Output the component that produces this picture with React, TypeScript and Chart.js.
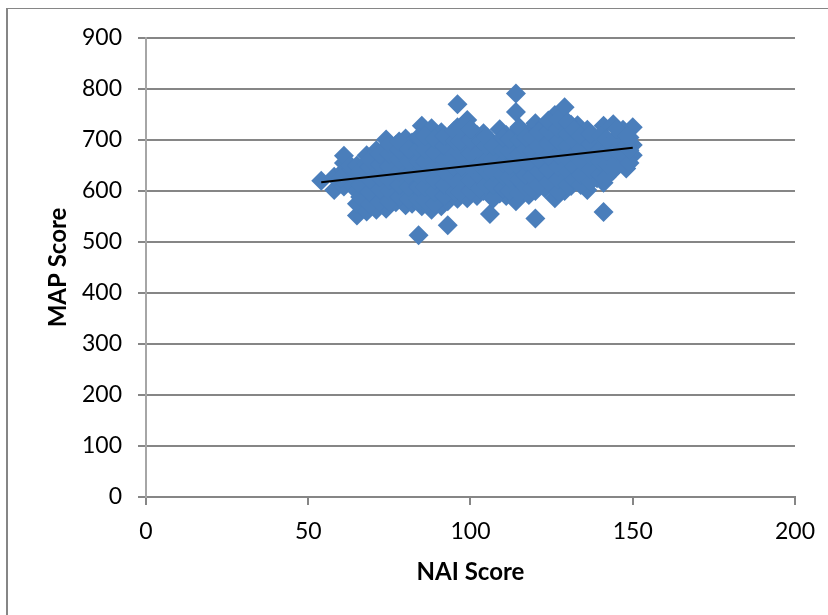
import React, { useEffect, useRef } from "react";
import { Chart, registerables } from "chart.js";

Chart.register(...registerables);

const naiScores = [
  54, 58, 58, 61, 61, 61, 61, 63, 63, 63,
  65, 65, 65, 65, 65, 68, 68, 68, 68, 68, 68,
  71, 71, 71, 71, 71, 71, 74, 74, 74, 74, 74, 74, 74,
  77, 77, 77, 77, 77, 77, 80, 80, 80, 80, 80, 80,
  82, 82, 82, 82, 82, 82, 84, 85, 85, 85, 85, 85, 85, 85,
  88, 88, 88, 88, 88, 88, 88, 91, 91, 91, 91, 91, 91, 91,
  93, 93, 93, 93, 93, 93, 93, 96, 96, 96, 96, 96, 96, 96, 96,
  99, 99, 99, 99, 99, 99, 99, 102, 102, 102, 102, 102, 102,
  104, 104, 104, 104, 104, 104, 106, 106, 106, 106, 106, 106,
  109, 109, 109, 109, 109, 109, 111, 111, 111, 111, 111, 111,
  114, 114, 114, 114, 114, 114, 114, 114, 116, 116, 116, 116, 116,
  118, 118, 118, 118, 118, 118, 120, 120, 120, 120, 120, 120, 120,
  123, 123, 123, 123, 123, 123, 126, 126, 126, 126, 126, 126, 126,
  129, 129, 129, 129, 129, 129, 129, 131, 131, 131, 131, 131, 131,
  133, 133, 133, 133, 133, 136, 136, 136, 136, 136, 136,
  139, 139, 139, 139, 141, 141, 141, 141, 141, 141,
  144, 144, 144, 144, 147, 147, 147, 148, 150, 150, 150,
];

const mapScores = [
  620, 602, 628, 609, 640, 655, 669, 615, 640, 650,
  552, 575, 600, 625, 650, 560, 585, 610, 635, 655, 670,
  563, 590, 615, 640, 665, 680, 565, 590, 610, 635, 660, 685, 701,
  578, 600, 625, 650, 675, 690, 572, 595, 620, 645, 670, 703,
  575, 600, 625, 650, 675, 695, 513, 570, 595, 620, 645, 670, 695, 728,
  563, 585, 610, 635, 660, 690, 723, 570, 595, 620, 645, 670, 695, 715,
  533, 580, 605, 630, 655, 680, 705, 585, 610, 635, 660, 685, 710, 725, 770,
  586, 610, 635, 660, 685, 715, 739, 590, 615, 640, 665, 690, 710,
  600, 625, 650, 675, 700, 713, 555, 600, 625, 650, 675, 700,
  595, 620, 645, 670, 695, 721, 590, 615, 640, 665, 690, 710,
  580, 610, 635, 660, 685, 715, 755, 791, 598, 620, 645, 670, 695,
  592, 615, 640, 665, 690, 715, 546, 600, 625, 650, 675, 700, 733,
  605, 630, 655, 680, 705, 730, 586, 610, 635, 660, 685, 710, 749,
  600, 625, 650, 675, 700, 725, 764, 610, 635, 660, 685, 710, 730,
  620, 645, 670, 695, 729, 602, 630, 655, 680, 705, 720,
  625, 650, 675, 700, 559, 616, 640, 665, 690, 728,
  640, 665, 690, 731, 655, 680, 720, 644, 670, 690, 725,
];

const moreNai = [
  60, 66, 66, 66, 69, 69, 69, 69, 69, 72, 72, 72, 72, 72,
  75, 75, 75, 75, 75, 75, 78, 78, 78, 78, 78, 78, 81, 81, 81, 81, 81,
  84, 84, 84, 84, 84, 84, 86, 86, 86, 86, 86, 86, 89, 89, 89, 89, 89, 89,
  92, 92, 92, 92, 92, 92, 95, 95, 95, 95, 95, 95, 97, 97, 97, 97, 97, 97,
  100, 100, 100, 100, 100, 100, 103, 103, 103, 103, 103, 105, 105, 105, 105, 105,
  107, 107, 107, 107, 107, 110, 110, 110, 110, 110, 112, 112, 112, 112, 112,
  115, 115, 115, 115, 115, 115, 117, 117, 117, 117, 117, 119, 119, 119, 119, 119,
  121, 121, 121, 121, 121, 124, 124, 124, 124, 124, 124, 127, 127, 127, 127, 127, 127, 127,
  130, 130, 130, 130, 130, 130, 132, 132, 132, 132, 132, 134, 134, 134, 134, 134,
  137, 137, 137, 137, 137, 140, 140, 140, 140, 142, 142, 142, 142,
  145, 145, 145, 145, 148, 148, 148, 149, 149, 149,
];

const moreMap = [
  625, 588, 612, 638, 573, 598, 622, 647, 662, 578, 603, 628, 652, 673,
  578, 600, 622, 648, 672, 692, 588, 612, 638, 662, 682, 697, 584, 608, 632, 658, 682,
  583, 608, 632, 658, 682, 706, 582, 608, 632, 658, 682, 708, 575, 598, 622, 648, 675, 702,
  590, 612, 638, 662, 688, 708, 598, 622, 648, 672, 698, 718, 598, 622, 648, 672, 698, 722,
  600, 622, 648, 675, 700, 722, 605, 628, 652, 678, 698, 612, 638, 662, 688, 706,
  585, 612, 638, 662, 688, 605, 630, 655, 680, 705, 600, 625, 650, 678, 702,
  595, 622, 648, 672, 700, 725, 608, 632, 658, 682, 705, 605, 628, 652, 678, 705,
  612, 638, 662, 688, 715, 618, 642, 668, 692, 718, 738, 598, 622, 648, 672, 698, 722, 740,
  612, 638, 662, 688, 712, 735, 622, 648, 672, 698, 720, 612, 632, 658, 682, 708,
  618, 642, 668, 692, 712, 632, 658, 682, 708, 628, 652, 678, 702,
  652, 678, 705, 722, 665, 690, 708, 655, 680, 705,
];

const trendNai = [54, 150];
const trendMap = [617, 685];

const xTitle = "NAI Score";
const yTitle = "MAP Score";

const FONT = "Lato, Carlito, Calibri, sans-serif";
const GRID = "#868686";
const AXIS = "#a6a6a6";

export default function App() {
  const ref = useRef<HTMLCanvasElement | null>(null);

  useEffect(() => {
    if (!ref.current) return;
    const allNai = [...naiScores, ...moreNai];
    const allMap = [...mapScores, ...moreMap];
    const chart = new Chart(ref.current, {
      type: "scatter",
      data: {
        datasets: [
          {
            label: "Trend",
            data: trendNai.map((x, i) => ({ x, y: trendMap[i] })),
            showLine: true,
            borderColor: "#000000",
            borderWidth: 2,
            pointRadius: 0,
            order: 0,
          },
          {
            label: "Scores",
            data: allNai.map((x, i) => ({ x, y: allMap[i] })),
            pointStyle: "rectRot",
            pointRadius: 10,
            backgroundColor: "#4a7ebb",
            borderColor: "#4a7ebb",
            borderWidth: 0,
            order: 1,
          },
        ],
      },
      options: {
        animation: false,
        responsive: false,
        layout: { padding: { top: 38, right: 32, left: 0, bottom: 0 } },
        plugins: {
          legend: { display: false },
          tooltip: { enabled: false },
        },
        scales: {
          x: {
            type: "linear",
            min: 0,
            max: 200,
            ticks: {
              stepSize: 50,
              font: { family: FONT, size: 23 },
              color: "#000000",
              padding: 13,
              maxRotation: 0,
            },
            grid: {
              drawOnChartArea: false,
              drawTicks: true,
              tickLength: 8,
              color: GRID,
              lineWidth: 2,
            },
            border: { color: GRID, width: 2 },
            title: {
              display: true,
              text: xTitle,
              color: "#000000",
              font: { family: FONT, size: 24, weight: "bold" },
              padding: { top: 0, bottom: 28 },
            },
            afterFit: (s: any) => {
              s.height = 118;
            },
          },
          y: {
            type: "linear",
            min: 0,
            max: 900,
            ticks: {
              stepSize: 100,
              font: { family: FONT, size: 23 },
              color: "#000000",
              padding: 16,
            },
            grid: {
              tickLength: 8,
              color: GRID,
              lineWidth: 2,
            },
            border: { color: AXIS, width: 2 },
            title: {
              display: true,
              text: yTitle,
              color: "#000000",
              font: { family: FONT, size: 24, weight: "bold" },
              padding: { top: 44, bottom: 0 },
            },
            afterFit: (s: any) => {
              s.width = 146;
            },
          },
        },
      },
    });
    return () => chart.destroy();
  }, []);

  return (
    <div style={{ position: "absolute", left: 0, top: 0, width: 828, height: 615, background: "#ffffff", overflow: "hidden" }}>
      <div
        style={{
          position: "absolute",
          left: 6,
          top: 8,
          width: 830,
          height: 620,
          borderLeft: "2px solid #868686",
          borderTop: "1px solid #868686",
        }}
      />
      <canvas ref={ref} width={828} height={615} style={{ position: "absolute", left: 0, top: 0, display: "block" }} />
    </div>
  );
}
